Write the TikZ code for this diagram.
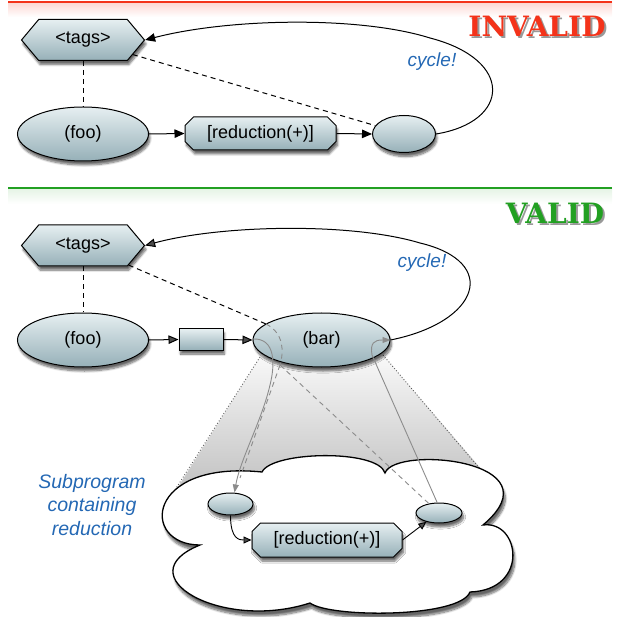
\documentclass[tikz,border=0pt]{standalone}
\usepackage{fontspec}
\setmainfont{Liberation Sans}
\newfontfamily\slabfont{DejaVu Serif}
\usetikzlibrary{shapes.geometric,shapes.symbols,shapes.misc,arrows.meta,shadows.blur,calc}
\definecolor{ntop}{HTML}{E6EFF1}
\definecolor{nbot}{HTML}{96B0B8}
\definecolor{cyc}{HTML}{2468B4}
\definecolor{redl}{HTML}{F4331A}
\definecolor{grnl}{HTML}{22A022}
\definecolor{lgray}{HTML}{8C8C8C}
\tikzset{
  nd/.style={draw=black, line width=1pt, top color=ntop, bottom color=nbot, inner sep=0pt,
    font=\fontsize{18}{20}\selectfont,
    blur shadow={shadow xshift=1.5pt, shadow yshift=-4pt, shadow blur steps=8, shadow opacity=60}},
  ell/.style={nd, ellipse},
  hexa/.style={nd, signal, signal to=west and east, signal pointer angle=100,
    minimum width=123pt, minimum height=41pt},
  redbox/.style={nd, chamfered rectangle, chamfered rectangle xsep=5pt, chamfered rectangle angle=45},
  arr/.style={line width=1pt, -{Triangle[length=10pt,width=8.5pt]}},
  sarr/.style={line width=0.9pt, -{Triangle[length=8pt,width=7pt]}},
  garr/.style={lgray, line width=0.9pt, -{Triangle[length=8pt,width=6pt]}},
  dsh/.style={line width=1pt, dash pattern=on 5pt off 4pt},
  gdsh/.style={lgray, line width=0.9pt, dash pattern=on 5pt off 4pt},
  cyclbl/.style={text=cyc, font=\itshape\fontsize{19}{22}\selectfont},
  bigsh/.style={text=black, opacity=0.4, font=\slabfont\bfseries\fontsize{28}{30}\selectfont},
  bigtx/.style={font=\slabfont\bfseries\fontsize{28}{30}\selectfont}
}
\begin{document}
\begin{tikzpicture}[x=1pt,y=-1pt]
\useasboundingbox (0,0) rectangle (618,617);
% separators
\shade[top color=redl!20, bottom color=white] (8,2) rectangle (612,17);
\draw[redl, line width=1.2pt] (8,2) -- (612,2);
\shade[top color=grnl!12, bottom color=white] (8,188) rectangle (612,204);
\draw[grnl, line width=1.2pt] (8,188) -- (612,188);
\node[bigsh] (invsh) at (539,28.5) {INVALID};
\node[bigtx, text=redl] (inv) at (537,26) {INVALID};
\node[bigsh] (valsh) at (557,215.5) {VALID};
\node[bigtx, text=grnl] (val) at (555,213) {VALID};

% ---------- top: invalid
\node[hexa] (tagsA) at (83,40) {<tags>};
\node[ell, minimum width=131pt, minimum height=54pt] (fooA) at (83,134) {(foo)};
\node[redbox, minimum width=151pt, minimum height=33pt] (redA) at (260.5,133.5) {[reduction(+)]};
\node[ell, minimum width=63pt, minimum height=37pt] (smA) at (404,134) {};
\node[cyclbl] (cycA) at (432,62) {cycle!};
\draw[dsh] (tagsA.south) -- (fooA.north);
\draw[dsh] (tagsA) -- (smA);
\draw[arr] (fooA.east) -- (redA.west);
\draw[arr] (redA.east) -- (smA.west);
\draw[arr] (smA.east) .. controls (510,122) and (515,60) .. (430,38)
  .. controls (360,16) and (230,18) .. (tagsA.east);

% ---------- bottom: valid
% funnel
\shade[top color=gray!5, bottom color=gray!58] (260,357) -- (173,495) -- (300,520) -- (495,485) -- (383,355) -- cycle;
\draw[black!65, line width=0.9pt, dotted] (260,357) -- (173,493);
\draw[black!65, line width=0.9pt, dotted] (383,355) -- (492,483);
% cloud
\draw[line width=1.3pt, fill=white,
  blur shadow={shadow xshift=2pt, shadow yshift=-5pt, shadow blur steps=10, shadow opacity=60}]
  (262,472) .. controls (272,451) and (378,449) .. (385,473)
  .. controls (395,445) and (560,460) .. (483,525)
  .. controls (520,520) and (530,590) .. (470,592)
  .. controls (460,618) and (330,618) .. (310,603)
  .. controls (220,632) and (125,575) .. (200,545)
  .. controls (140,545) and (145,460) .. (262,472) -- cycle;

\node[hexa] (tagsB) at (83,245.5) {<tags>};
\node[ell, minimum width=131pt, minimum height=54pt] (fooB) at (83,340) {(foo)};
\node[nd, rectangle, minimum width=44pt, minimum height=21pt] (boxB) at (201,339.5) {};
\node[ell, minimum width=137pt, minimum height=54pt] (barB) at (321.5,340) {(bar)};
\node[cyclbl] (cycB) at (422,263) {cycle!};

\node[ell, minimum width=45pt, minimum height=22pt] (lin) at (230.5,504) {};
\node[redbox, minimum width=150pt, minimum height=34pt] (red2) at (327,540) {[reduction(+)]};
\node[ell, minimum width=46pt, minimum height=20pt] (rin) at (439,513) {};

\node[cyclbl, align=center, font=\itshape\fontsize{19.5}{23.5}\selectfont] (sub) at (92,505)
  {Subprogram\\containing\\reduction};

\coordinate (barin) at (266,324);
\coordinate (brk) at (280,365);
\coordinate (dend) at (240,478);
\coordinate (gstart) at (253,339);

\draw[dsh] (tagsB.south) -- (fooB.north);
\draw[dsh] (tagsB) -- (barin);
\draw[gdsh] (barin) .. controls (284,333) and (284,352) .. (brk);
\draw[gdsh] (brk) -- (dend);
\draw[gdsh] (brk) -- (rin);
\draw[arr] (fooB.east) -- (boxB.west);
\draw[arr] (boxB.east) -- (barB.west);
\draw[arr] (barB.east) .. controls (480,322) and (500,262) .. (420,243)
  .. controls (350,222) and (220,225) .. (tagsB.east);
\draw[garr] (gstart) .. controls (276,338) and (275,365) .. (270,385)
  .. controls (262,420) and (240,460) .. ($(lin.north)+(4,0)$);
\draw[garr] (rin.100) -- (372,355) .. controls (370,343) and (374,340) .. (barB.east);
\draw[sarr] (lin.south) .. controls +(0,24) and +(-12,0) .. (red2.west);
\draw[sarr] (red2.east) -- (rin.215);
\end{tikzpicture}
\end{document}
